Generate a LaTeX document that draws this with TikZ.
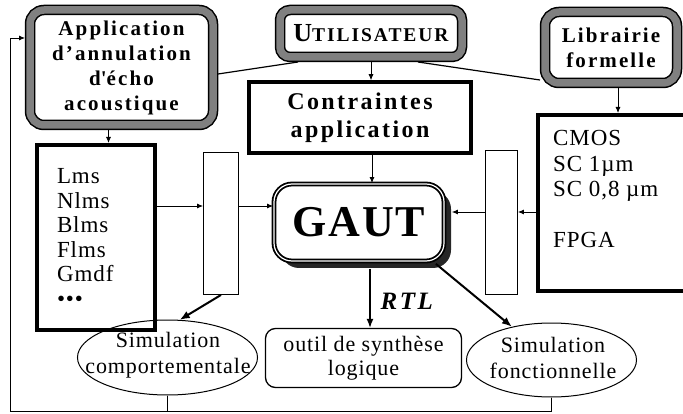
\documentclass[tikz,border=0pt]{standalone}
\usepackage{fontspec}
\setmainfont{Liberation Serif}[LetterSpace=4]
\newfontfamily\spacedfont{Liberation Serif}[LetterSpace=10]
\usetikzlibrary{arrows.meta,shapes.geometric,shadows,calc}
\tikzstyle{hatchbox}=[draw=black, line width=1.5pt, double=black!50, double distance=7.5pt, rounded corners=14pt, fill=white, outer sep=5pt, inner sep=0pt, align=center, font=\spacedfont\bfseries\fontsize{21}{25}\selectfont]
\tikzstyle{thickbox}=[draw=black, line width=4pt, fill=white, inner sep=0pt]
\tikzstyle{muxbox}=[draw=black, line width=0.9pt, fill=white, inner sep=0pt]
\tikzstyle{simell}=[ellipse, draw=black, line width=1pt, inner sep=0pt]
\tikzstyle{simtext}=[align=center, inner sep=0pt, font=\fontsize{22}{26}\selectfont]
\tikzstyle{arr}=[-{Latex[length=6pt,width=5pt]}, line width=0.8pt]
\tikzstyle{bigarr}=[-{Latex[length=10pt,width=8pt]}, line width=2pt]

\begin{document}
\begin{tikzpicture}[x=1pt, y=-1pt]
\useasboundingbox (0,0) rectangle (683,414);

% top row
\node[hatchbox, minimum width=183pt, minimum height=115pt] at (121.5, 67.5) (app) {Application\\d’annulation\\d\textquotesingle{}écho\\acoustique};
\node[hatchbox, rounded corners=10pt, minimum width=182pt, minimum height=47pt] at (371, 33.5) (util) {{\fontsize{26}{30}\selectfont U}{\fontsize{19.5}{24}\selectfont TILISATEUR}};
\node[hatchbox, minimum width=132pt, minimum height=71pt] at (611, 47.5) (lib) {Librairie\\formelle};
\node[thickbox, line width=3.5pt, minimum width=222pt, minimum height=71pt, align=center, font=\spacedfont\bfseries\fontsize{24}{28}\selectfont] at (360, 117.5) (contr) {Contraintes\\application};

% middle row
\node[thickbox, minimum width=118pt, minimum height=185pt, text width=78pt, align=left, font=\fontsize{23}{24.5}\selectfont] at (96, 237.5) (lms) {Lms\\Nlms\\Blms\\Flms\\Gmdf\\\textbullet\textbullet\textbullet};
\node[muxbox, minimum width=35pt, minimum height=142pt] at (221, 223.5) (muxl) {};
\node[draw=black, line width=1.8pt, double=white, double distance=1.2pt, rounded corners=18pt, fill=white, drop shadow={shadow xshift=7pt, shadow yshift=-7pt, fill=black!85, opacity=1}, minimum width=170pt, minimum height=77pt, font=\bfseries\fontsize{44}{50}\selectfont] at (359, 222.5) (gaut) {GAUT};
\node[muxbox, minimum width=32pt, minimum height=144pt] at (501.5, 222.5) (muxr) {};
\node[thickbox, minimum width=160pt, minimum height=176pt] at (618, 203) (tech) {};
\node[anchor=west, align=left, inner sep=0pt, font=\fontsize{23}{25.5}\selectfont] at (553, 189) (techlist) {CMOS\\SC 1µm\\SC 0,8 µm\\[25.5pt]FPGA};

% bottom row
\node[simell, minimum width=180pt, minimum height=75pt] at (167.5, 357.5) (simc) {};
\node[simtext] at (168, 355) (simctext) {Simulation\\comportementale};
\node[draw=black, line width=1.3pt, rounded corners=10pt, minimum width=196pt, minimum height=59pt, align=center, inner sep=0pt, font=\fontsize{22}{24}\selectfont] at (363.5, 358) (outil) {outil de synthèse\\logique};
\node[simell, minimum width=170pt, minimum height=74pt] at (551.5, 360) (simf) {};
\node[simtext] at (553, 358) (simftext) {Simulation\\fonctionnelle};

\coordinate (lvl) at (0, 206);
\coordinate (rvl) at (0, 212);
\coordinate (fbc) at (10, 411);
\coordinate (fbt) at (10, 38);

\draw[line width=1.2pt] ([yshift=-6.5pt]app.east) -- ([xshift=-73pt]util.south);
\draw[line width=1.2pt] ([xshift=47pt]util.south) -- ([yshift=-32.5pt]lib.west);
\draw[arr] ([xshift=-13pt]app.south) -- ([xshift=-13pt]app.south |- lms.north);
\draw[arr] (util.south) -- (util.south |- contr.north);
\draw[arr] ([xshift=7pt]lib.south) -- ([xshift=7pt]lib.south |- tech.north);
\draw[arr] ([xshift=12pt]contr.south) -- ([xshift=12pt]contr.south |- gaut.north);

\draw[arr] (lms.east |- lvl) -- (muxl.west |- lvl);
\draw[arr] (muxl.east |- lvl) -- (gaut.west |- lvl);
\draw[arr] (tech.west |- rvl) -- (muxr.east |- rvl);
\draw[arr] (muxr.west |- rvl) -- ($(gaut.east |- rvl)+(7,0)$);

\draw[-{Latex[length=9pt,width=7pt]}, line width=1.4pt] ([xshift=11pt, yshift=-7pt]gaut.south) -- ([xshift=11pt]gaut.south |- outil.north) node[midway, right=10pt, yshift=-3pt, inner sep=0pt, font=\spacedfont\bfseries\itshape\fontsize{25}{28}\selectfont] (rtl) {RTL};
\draw[bigarr] (muxl.south) -- (simc.72);
\draw[bigarr] ([xshift=-9pt, yshift=-2pt]gaut.south east) -- (simf.140);

% feedback loop
\draw[arr] (simf.south) |- (fbc) -- (fbt) -- (fbt -| app.west);
\draw[line width=0.8pt] (simc.south) -- (simc.south |- fbc);
\end{tikzpicture}
\end{document}
